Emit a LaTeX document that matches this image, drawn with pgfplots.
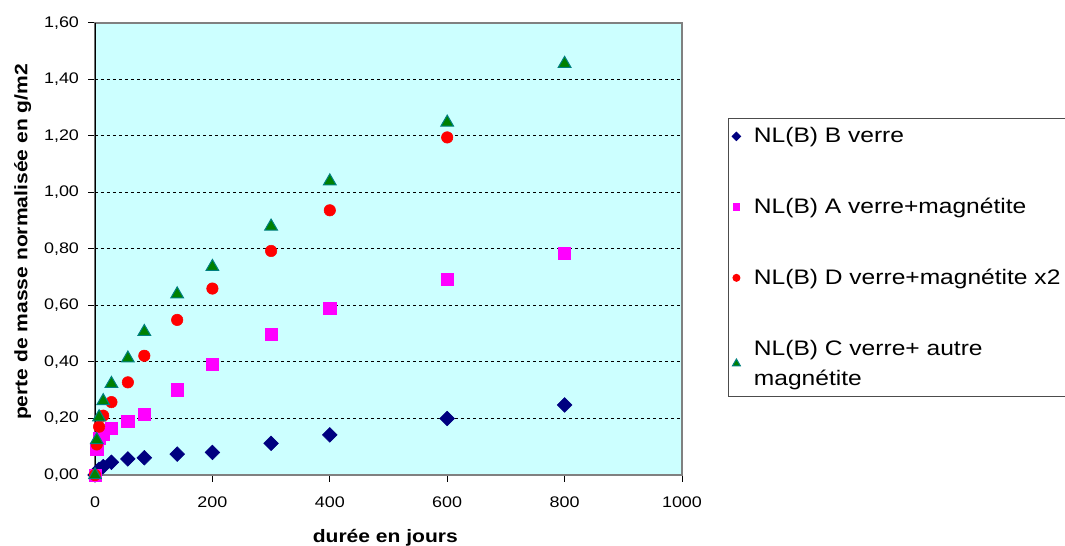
\documentclass[border=0pt]{standalone}
\usepackage{pgfplots}
\pgfplotsset{compat=1.18}
\usepackage{fontspec}
\setmainfont{Liberation Sans}[FakeStretch=1.17]
\definecolor{bgc}{RGB}{204,255,255}
\definecolor{navyc}{RGB}{0,0,128}
\definecolor{magc}{RGB}{255,0,255}
\definecolor{redc}{RGB}{255,0,0}
\definecolor{grnc}{RGB}{0,128,0}
\definecolor{tealc}{RGB}{0,128,128}
\begin{document}
\begin{tikzpicture}
\begin{axis}[
  at={(71.25pt,53.25pt)}, anchor=south west,
  scale only axis, width=440.25pt, height=339pt,
  xmin=0, xmax=1000, ymin=0, ymax=1.6,
  xtick={0,200,400,600,800,1000},
  ytick={0,0.2,0.4,0.6,0.8,1.0,1.2,1.4,1.6},
  xtick pos=bottom, ytick pos=left,
  tick align=outside, major tick length=5pt,
  tick style={black, line width=0.75pt},
  axis background/.style={fill=bgc},
  axis line style={draw=gray, line width=1.2pt},
  ymajorgrids,
  grid style={black, line width=0.75pt, dash pattern=on 2.25pt off 2.25pt},
  /pgf/number format/assume math mode=true,
  /pgf/number format/1000 sep={},
  yticklabel style={/pgf/number format/.cd, fixed, fixed zerofill, precision=2, use comma, /tikz/.cd, xshift=-3.5pt},
  xticklabel style={yshift=-8pt},
  ticklabel style={font=\fontsize{11.5}{13}\selectfont},
  legend style={at={(1.078,0.790)}, anchor=north west, draw=black!70, line width=0.75pt,
    font=\fontsize{15.75}{22.5}\selectfont, cells={anchor=west, align=left},
    row sep=36pt, column sep=8pt, inner xsep=3pt, inner ysep=5pt},
  legend image code/.code={\draw[#1] plot coordinates {(0.1cm,0cm)};},
]
\addplot[only marks, mark=square*, mark size=3.9pt, color=navyc, mark options={rotate=45}, legend image post style={mark size=2.2pt}] coordinates {
(0,0) (3,0.012) (7,0.02) (14,0.03) (28,0.045) (56,0.057) (84,0.061) (140,0.074) (200,0.080) (300,0.112) (400,0.142) (600,0.200) (800,0.248)};
\addlegendentry{NL(B) B verre}
\addplot[only marks, mark=square*, mark size=4.6pt, color=magc, legend image post style={mark size=2.5pt}] coordinates {
(0,0) (3,0.090) (7,0.130) (14,0.144) (28,0.165) (56,0.191) (84,0.215) (140,0.302) (200,0.392) (300,0.497) (400,0.591) (600,0.693) (800,0.785)};
\addlegendentry{NL(B) A verre+magnétite}
\addplot[only marks, mark=*, mark size=4.3pt, color=redc, legend image post style={mark size=2.6pt}] coordinates {
(0,0) (3,0.108) (7,0.171) (14,0.210) (28,0.258) (56,0.328) (84,0.422) (140,0.549) (200,0.660) (300,0.793) (400,0.937) (600,1.195)};
\addlegendentry{NL(B) D verre+magnétite x2}
\addplot[only marks, mark=triangle*, mark size=5.5pt, draw=tealc, fill=grnc, mark options={line width=0.75pt}, legend image post style={mark size=3.4pt}] coordinates {
(0,0) (3,0.124) (7,0.205) (14,0.262) (28,0.323) (56,0.413) (84,0.507) (140,0.640) (200,0.737) (300,0.880) (400,1.040) (600,1.248) (800,1.456)};
\addlegendentry{NL(B) C verre+ autre\\magnétite}
\draw[black, line width=1pt] (rel axis cs:0,0) -- (rel axis cs:0,1);
\end{axis}
\node[font=\bfseries\fontsize{13.5}{15}\selectfont] at (289pt,6.5pt) {durée en jours};
\node[font=\bfseries\fontsize{13.5}{15}\selectfont, rotate=90] at (17pt,228pt) {perte de masse normalisée en g/m2};
\pgfresetboundingbox
\useasboundingbox (0,0) rectangle (798.75pt,409.5pt);
\end{tikzpicture}
\end{document}
